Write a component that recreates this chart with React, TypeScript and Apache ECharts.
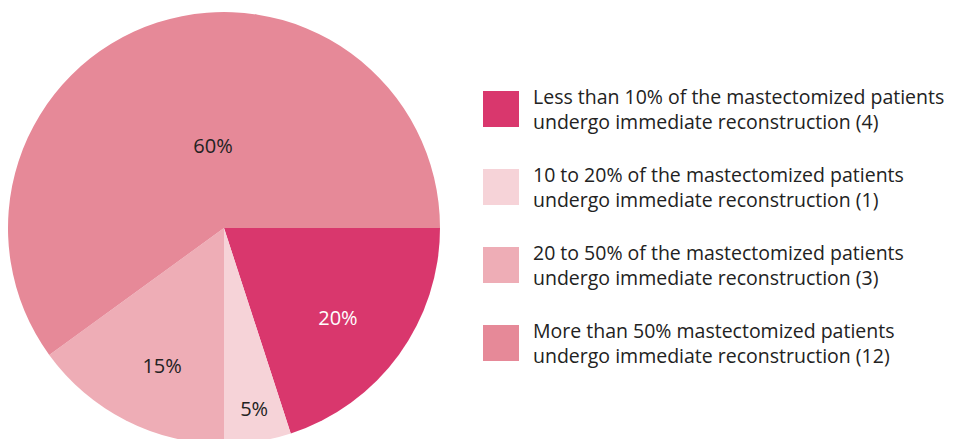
import React, { useEffect, useRef } from "react";
import * as echarts from "echarts";

const categories = [
  "Less than 10% of the mastectomized patients\nundergo immediate reconstruction (4)",
  "10 to 20% of the mastectomized patients\nundergo immediate reconstruction (1)",
  "20 to 50% of the mastectomized patients\nundergo immediate reconstruction (3)",
  "More than 50% mastectomized patients\nundergo immediate reconstruction (12)",
];
const counts = [4, 1, 3, 12];
const colors = ["#d9376d", "#f6d3d8", "#eeadb6", "#e68998"];
const labelColors = ["#ffffff", "#222222", "#222222", "#222222"];
const labelRadialFraction = [0.672, 0.845, 0.696, 0.383];
const labelAngleShiftDeg = [2.3, -0.5, -2.7, 10.4];

const CX = 224;
const CY = 228;
const R = 216;

export default function App() {
  const ref = useRef<HTMLDivElement>(null);
  useEffect(() => {
    document.body.style.margin = "0";
    if (!ref.current) return;
    const chart = echarts.init(ref.current, null, { renderer: "svg" });
    const total = counts.reduce((a, b) => a + b, 0);
    const mids: number[] = [];
    let acc = 0;
    counts.forEach((c, i) => {
      mids.push(((acc + c / 2) / total) * Math.PI * 2 + (labelAngleShiftDeg[i] * Math.PI) / 180);
      acc += c;
    });
    chart.setOption({
      animation: false,
      textStyle: { fontFamily: "Open Sans" },
      legend: {
        orient: "vertical",
        left: 483,
        top: 84,
        padding: 0,
        itemWidth: 36,
        itemHeight: 36,
        itemGap: 28,
        icon: "rect",
        selectedMode: false,
        textStyle: {
          fontFamily: "Open Sans",
          fontSize: 19.5,
          lineHeight: 25,
          color: "#222222",
          padding: [0, 0, 0, 9],
        },
        data: categories,
      },
      series: [
        {
          type: "pie",
          center: [CX, CY],
          radius: R,
          startAngle: 0,
          clockwise: true,
          silent: true,
          label: {
            show: true,
            position: "inside",
            formatter: (p: any) => Math.round(p.percent) + "%",
            fontFamily: "Open Sans",
            fontSize: 20,
          },
          labelLine: { show: false },
          labelLayout: (params: any) => {
            const i = params.dataIndex;
            const a = mids[i];
            const f = labelRadialFraction[i];
            return {
              x: CX + f * R * Math.cos(a),
              y: CY + f * R * Math.sin(a),
              align: "center",
              verticalAlign: "middle",
            };
          },
          data: categories.map((name, i) => ({
            name,
            value: counts[i],
            itemStyle: { color: colors[i] },
            label: { color: labelColors[i] },
          })),
        },
      ],
    });
    return () => chart.dispose();
  }, []);
  return <div ref={ref} style={{ width: 966, height: 439 }} />;
}
